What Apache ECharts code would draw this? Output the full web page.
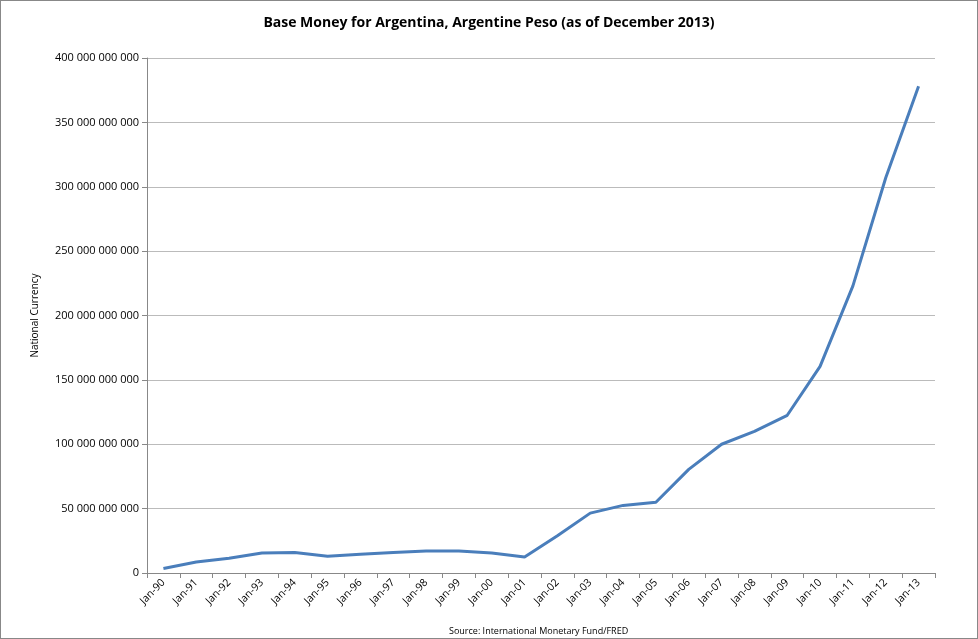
<!DOCTYPE html>
<html>
<head>
<meta charset="utf-8">
<script src="https://cdn.jsdelivr.net/npm/echarts@6/dist/echarts.min.js"></script>
<style>
  html, body { margin: 0; padding: 0; background: #fff; }
  #chart { width: 976px; height: 637px; border: 1px solid #888; }
</style>
</head>
<body>
<div id="chart"></div>
<script>
var years = ['Jan-90', 'Jan-91', 'Jan-92', 'Jan-93', 'Jan-94', 'Jan-95', 'Jan-96', 'Jan-97',
    'Jan-98', 'Jan-99', 'Jan-00', 'Jan-01', 'Jan-02', 'Jan-03', 'Jan-04', 'Jan-05',
    'Jan-06', 'Jan-07', 'Jan-08', 'Jan-09', 'Jan-10', 'Jan-11', 'Jan-12', 'Jan-13'];
// billions of pesos
var baseMoney = [3.5, 8.5, 11.5, 15.5, 16, 13, 14.5, 16, 17, 17, 15.5, 12.5,
    29, 46.5, 52.5, 55, 80.5, 100, 110, 122.5, 160.5, 223, 307, 378];

var chart = echarts.init(document.getElementById('chart'));

function fmt(v) {
    return String(Math.round(v)).replace(/\B(?=(\d{3})+(?!\d))/g, ' ');
}

chart.setOption({
    animation: false,
    textStyle: { fontFamily: 'Open Sans, DejaVu Sans, sans-serif' },
    title: {
        text: 'Base Money for Argentina, Argentine Peso (as of December 2013)',
        left: 'center',
        top: 10,
        textStyle: { fontSize: 14, fontWeight: 'bold', color: '#000' }
    },
    grid: { left: 146, right: 42, top: 57, bottom: 65 },
    xAxis: {
        type: 'category',
        data: years,
        boundaryGap: true,
        axisLine: { lineStyle: { color: '#888' } },
        axisTick: { show: true, lineStyle: { color: '#888' } },
        axisLabel: { rotate: 45, fontSize: 10.5, color: '#000', interval: 0 }
    },
    yAxis: {
        type: 'value',
        min: 0,
        max: 400,
        interval: 50,
        name: 'National Currency',
        nameLocation: 'middle',
        nameGap: 107,
        nameTextStyle: { fontSize: 10, color: '#000' },
        axisLine: { show: true, lineStyle: { color: '#888' } },
        axisTick: { show: true, lineStyle: { color: '#888' } },
        splitLine: { lineStyle: { color: '#bbb' } },
        axisLabel: {
            fontSize: 11,
            color: '#000',
            formatter: function(v) { return v === 0 ? '0' : fmt(v * 1e9); }
        }
    },
    graphic: [{
        type: 'text',
        left: 448,
        bottom: 2,
        style: { text: 'Source: International Monetary Fund/FRED', fontSize: 9, fill: '#000', fontFamily: 'Open Sans, sans-serif' }
    }],
    series: [{
        type: 'line',
        data: baseMoney,
        symbol: 'none',
        lineStyle: { color: '#4a7ebb', width: 3 }
    }]
});
</script>
</body>
</html>
